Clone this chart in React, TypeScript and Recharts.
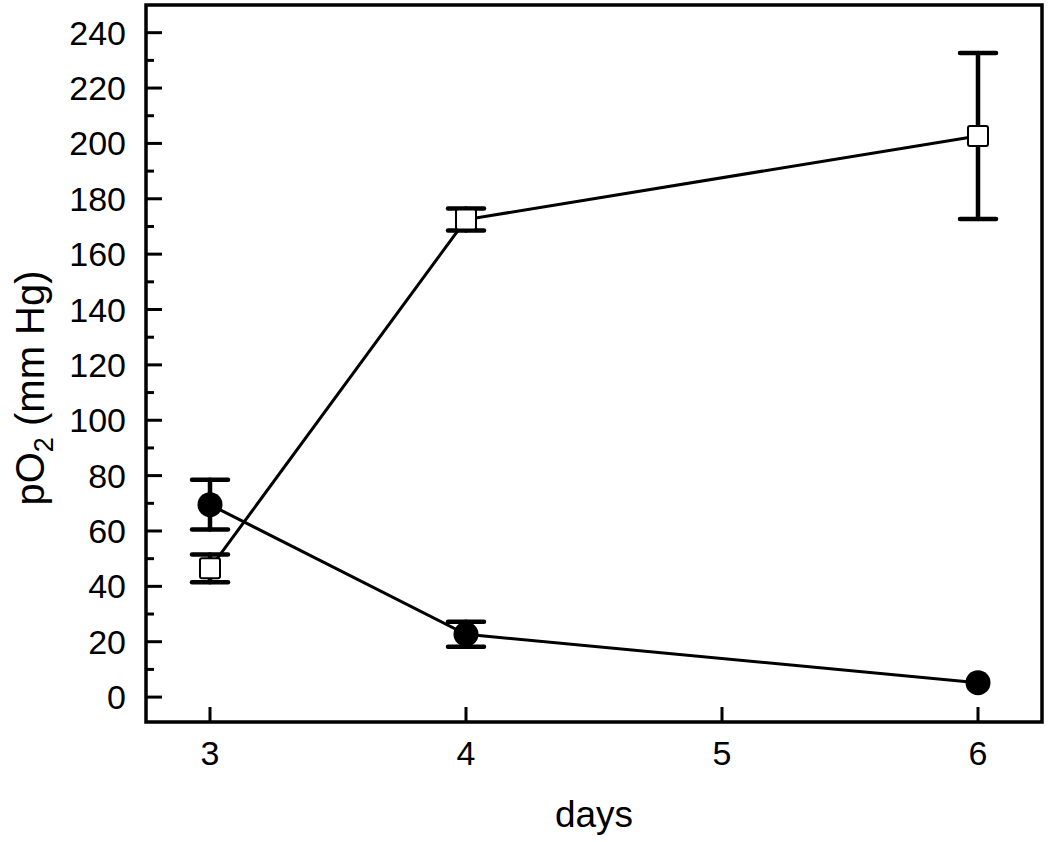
import React from "react";
import {
  ScatterChart,
  Scatter,
  XAxis,
  YAxis,
  ErrorBar,
  ReferenceArea,
} from "recharts";

const days = [3, 4, 6];
const filledPO2 = [69.5, 22.7, 5.2];
const filledErr = [9, 4.5, 0];
const openPO2 = [46.5, 172.5, 202.7];
const openErr = [5, 4, 30];

const xTicks = [3, 4, 5, 6];
const yTicks = [0, 10, 20, 30, 40, 50, 60, 70, 80, 90, 100, 110, 120, 130, 140, 150, 160, 170, 180, 190, 200, 210, 220, 230, 240];

const filledData = days.map((d, i) => ({ day: d, po2: filledPO2[i], err: filledErr[i] }));
const openData = days.map((d, i) => ({ day: d, po2: openPO2[i], err: openErr[i] }));

const FONT = "'Liberation Sans', Arial, sans-serif";

function YTick(props: any) {
  const { x, y, payload } = props;
  const major = payload.value % 20 === 0;
  return (
    <g>
      <line x1={x} y1={y} x2={x + (major ? 16 : 8)} y2={y} stroke="#000" strokeWidth={3} />
      {major && (
        <text x={x - 20} y={y + 12} textAnchor="end" fontSize={34} fontFamily={FONT} fill="#000">
          {payload.value}
        </text>
      )}
    </g>
  );
}

function XTick(props: any) {
  const { x, y, payload } = props;
  return (
    <g>
      <line x1={x} y1={y} x2={x} y2={y - 15} stroke="#000" strokeWidth={3} />
      <text x={x} y={y + 43} textAnchor="middle" fontSize={34} fontFamily={FONT} fill="#000">
        {payload.value}
      </text>
    </g>
  );
}

const Dot = (props: any) => <circle cx={props.cx} cy={props.cy} r={12.5} fill="#000" />;
const Square = (props: any) => (
  <rect x={props.cx - 10} y={props.cy - 10} width={20} height={20} rx={2} fill="#fff" stroke="#000" strokeWidth={2} />
);

export default function App() {
  return (
    <div style={{ position: "absolute", left: 0, top: 0 }}>
      <ScatterChart width={1050} height={842} margin={{ top: 5, right: 8, bottom: 0, left: 0 }}>
        <XAxis
          type="number"
          dataKey="day"
          domain={[2.75, 6.25]}
          ticks={xTicks}
          interval={0}
          allowDataOverflow
          axisLine={false}
          tickLine={false}
          tickSize={0}
          tickMargin={0}
          height={120}
          tick={<XTick />}
          label={{
            content: () => (
              <text x={594} y={827} textAnchor="middle" fontSize={37} fontFamily={FONT} fill="#000">
                days
              </text>
            ),
          }}
        />
        <YAxis
          type="number"
          dataKey="po2"
          domain={[-9, 250]}
          ticks={yTicks}
          interval={0}
          allowDataOverflow
          axisLine={false}
          tickLine={false}
          tickSize={0}
          tickMargin={0}
          width={146}
          tick={<YTick />}
          label={{
            content: () => (
              <text
                x={44}
                y={388}
                transform="rotate(-90 44 388)"
                textAnchor="middle"
                fontSize={40}
                fontFamily={FONT}
                fill="#000"
              >
                pO
                <tspan fontSize={27} dy={9}>2</tspan>
                <tspan dy={-9}> (mm Hg)</tspan>
              </text>
            ),
          }}
        />
        <ReferenceArea
          x1={2.75}
          x2={6.25}
          y1={-9}
          y2={250}
          fill="none"
          fillOpacity={0}
          stroke="#000"
          strokeWidth={3.5}
          strokeOpacity={1}
          ifOverflow="visible"
        />
        <Scatter
          data={filledData}
          line={{ stroke: "#000", strokeWidth: 3 }}
          shape={<Dot />}
          isAnimationActive={false}
        >
          <ErrorBar
            dataKey="err"
            direction="y"
            width={18}
            stroke="#000"
            strokeWidth={4.5}
            strokeLinecap="round"
          />
        </Scatter>
        <Scatter
          data={openData}
          line={{ stroke: "#000", strokeWidth: 3 }}
          shape={<Square />}
          isAnimationActive={false}
        >
          <ErrorBar
            dataKey="err"
            direction="y"
            width={18}
            stroke="#000"
            strokeWidth={4.5}
            strokeLinecap="round"
          />
        </Scatter>
      </ScatterChart>
    </div>
  );
}
